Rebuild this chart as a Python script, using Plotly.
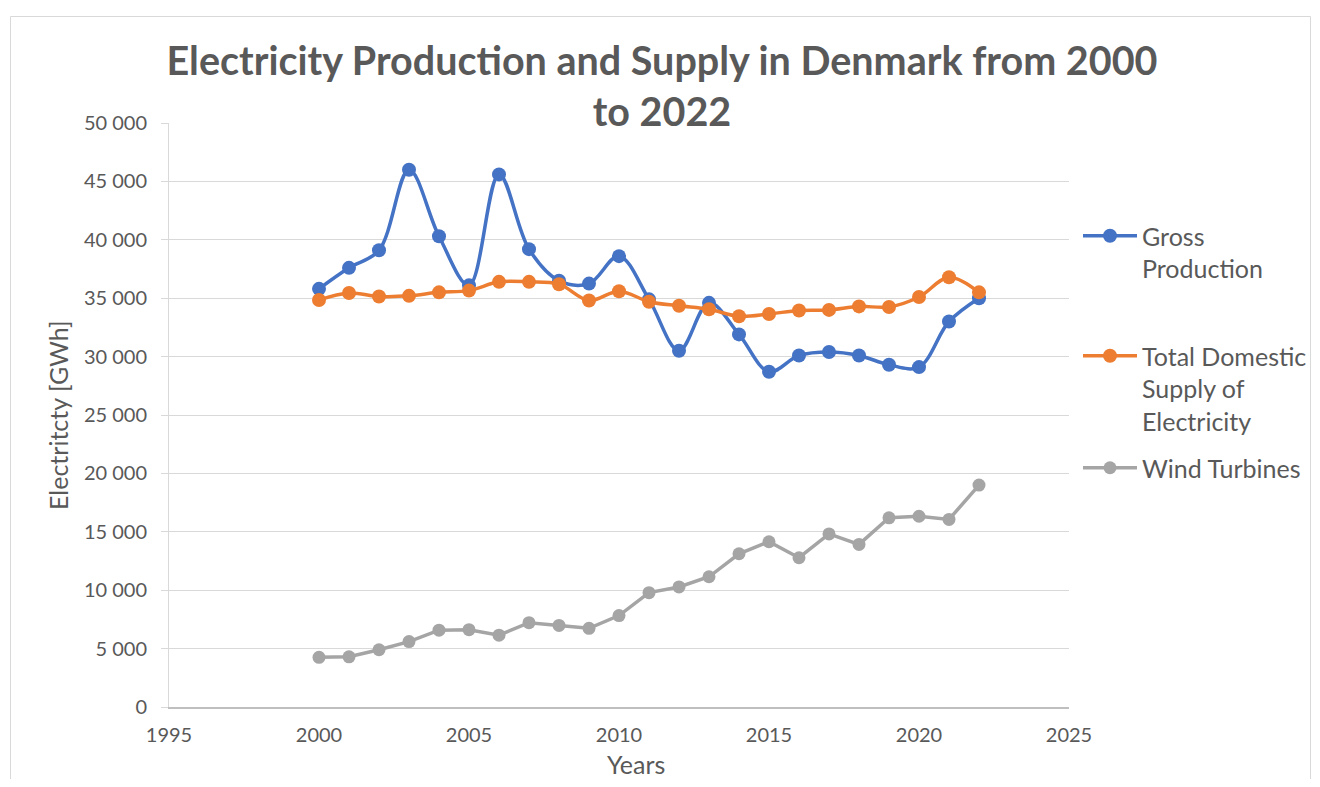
import plotly.graph_objects as go

years = list(range(2000, 2023))
gross_production = [35800, 37600, 39100, 46000, 40300, 36100, 45600, 39200, 36500, 36250,
                    38600, 34900, 30500, 34600, 31900, 28700, 30100, 30400, 30100, 29300,
                    29100, 33000, 35000]
domestic_supply = [34850, 35450, 35150, 35200, 35500, 35650, 36400, 36400, 36200, 34800,
                   35600, 34700, 34350, 34050, 33450, 33650, 33950, 34000, 34300, 34250,
                   35100, 36800, 35500]
wind_turbines = [4250, 4300, 4900, 5600, 6580, 6620, 6150, 7220, 6980, 6740,
                 7830, 9790, 10280, 11150, 13120, 14150, 12780, 14820, 13920, 16200,
                 16330, 16060, 19000]

y_ticks = [0, 5000, 10000, 15000, 20000, 25000, 30000, 35000, 40000, 45000, 50000]
x_ticks = [1995, 2000, 2005, 2010, 2015, 2020, 2025]

FONT = "Lato"
GREY_TXT = "#595959"

fig = go.Figure()
fig.add_trace(go.Scatter(
    x=years, y=gross_production, name="Gross<br>Production", mode="lines+markers",
    line=dict(color="#4472C4", width=3.5, shape="spline", smoothing=1),
    marker=dict(color="#4472C4", size=14), legend="legend", showlegend=True))
fig.add_trace(go.Scatter(
    x=years, y=domestic_supply, name="Total Domestic<br>Supply of<br>Electricity",
    mode="lines+markers",
    line=dict(color="#ED7D31", width=3.5, shape="spline", smoothing=1),
    marker=dict(color="#ED7D31", size=14), legend="legend2", showlegend=True))
fig.add_trace(go.Scatter(
    x=years, y=wind_turbines, name="Wind Turbines", mode="lines+markers",
    line=dict(color="#A5A5A5", width=3.5),
    marker=dict(color="#A5A5A5", size=13), legend="legend3", showlegend=True))

# page body has an 8px margin: convert page pixels to figure pixels
OFF = 8
W, H = 1320 - 2 * OFF, 787 - 2 * OFF
L, R, T, B = 169 - OFF, 1069 - OFF, 123 - OFF, 707 - OFF
ph = B - T
pw = R - L

def py(pix):
    return (B - (pix - OFF)) / ph

def px(pix):
    return ((pix - OFF) - L) / pw

legend_common = dict(font=dict(family=FONT, size=25, color=GREY_TXT), valign="top",
                     itemwidth=54, xanchor="left", yanchor="top", bgcolor="rgba(0,0,0,0)",
                     x=px(1078), itemclick=False, itemdoubleclick=False, visible=True)

fig.update_layout(
    width=W, height=H,
    showlegend=True,
    margin=dict(l=L, r=W - R, t=T, b=H - B, autoexpand=False),
    paper_bgcolor="white", plot_bgcolor="white",
    separators=". ",
    font=dict(family=FONT, color=GREY_TXT),
    title=dict(text="Electricity Production and Supply in Denmark from 2000<br>to 2022",
               x=0.5 + 2 / W, xanchor="center", y=1 - (75 - OFF) / H, yanchor="top",
               font=dict(family=FONT, size=39.5, color=GREY_TXT, weight="bold")),
    legend=dict(**legend_common, y=py(213)),
    legend2=dict(**legend_common, y=py(333)),
    legend3=dict(**legend_common, y=py(445)),
    xaxis=dict(range=[1995, 2025], tickvals=x_ticks, tickformat="d",
               showgrid=False, zeroline=False, showline=True, linecolor="#bfbfbf", linewidth=1.5,
               ticks="outside", ticklen=9, tickcolor="rgba(0,0,0,0)",
               tickfont=dict(family=FONT, size=20, color=GREY_TXT)),
    yaxis=dict(range=[0, 50000], tickvals=y_ticks, tickformat=",d",
               showgrid=True, gridcolor="#d9d9d9", gridwidth=1, zeroline=False,
               showline=True, linecolor="#d9d9d9", linewidth=1,
               ticks="outside", ticklen=7, tickcolor="#d9d9d9", ticklabelstandoff=10,
               tickfont=dict(family=FONT, size=20, color=GREY_TXT)),
    annotations=[
        dict(text="Years", xref="paper", yref="paper", x=px(636), y=py(764),
             xanchor="center", yanchor="middle", showarrow=False,
             font=dict(family=FONT, size=25, color=GREY_TXT)),
        dict(text="Electritcty [GWh]", xref="paper", yref="paper", x=px(58), y=py(415),
             xanchor="center", yanchor="middle", showarrow=False, textangle=-90,
             font=dict(family=FONT, size=25, color=GREY_TXT)),
    ],
    shapes=[dict(type="rect", xref="paper", yref="paper",
                 x0=px(10.5), x1=px(1310.5), y0=py(800), y1=py(16.5),
                 line=dict(color="#d9d9d9", width=1), fillcolor="rgba(0,0,0,0)", layer="below")],
)

fig.write_html("out.html")
